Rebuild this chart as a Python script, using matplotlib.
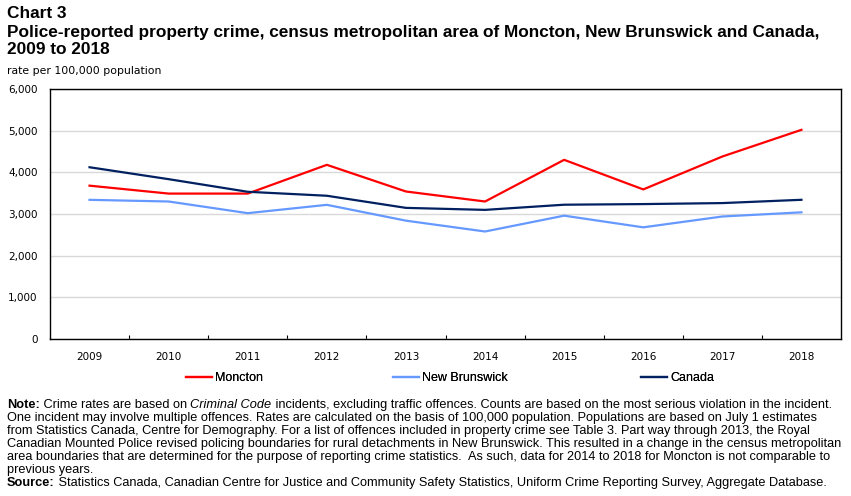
import matplotlib
matplotlib.use("Agg")
import matplotlib.pyplot as plt
import numpy as np

# data
years = ["2009", "2010", "2011", "2012", "2013", "2014", "2015", "2016", "2017", "2018"]
moncton = [3680, 3490, 3490, 4180, 3540, 3300, 4300, 3590, 4380, 5020]
new_brunswick = [3340, 3300, 3020, 3220, 2840, 2580, 2960, 2680, 2940, 3040]
canada = [4122, 3836, 3533, 3438, 3147, 3099, 3223, 3238, 3262, 3341]
yticks = [0, 1000, 2000, 3000, 4000, 5000, 6000]

TXT = "Liberation Sans"
NUM = "DejaVu Sans"

fig = plt.figure(figsize=(8.51, 4.96), dpi=100)
W, H = 851, 496

def fx(px):
    return px / W

def fy(py):
    return 1 - py / H

# axes: 50..841 x, 89..339 y (pixels)
ax = fig.add_axes([fx(50), fy(339), fx(841) - fx(50), fy(89) - fy(339)])
x = np.arange(len(years))
ax.plot(x, moncton, color="#ff0000", lw=1.6, label="Moncton")
ax.plot(x, new_brunswick, color="#6699ff", lw=1.6, label="New Brunswick")
ax.plot(x, canada, color="#002060", lw=1.6, label="Canada")

ax.set_xlim(-0.5, len(years) - 0.5)
ax.set_ylim(0, 6000)
ax.set_yticks(yticks)
ax.set_yticklabels([f"{v:,}" for v in yticks], fontfamily=NUM, fontsize=7.5)
ax.set_xticks(x)
ax.set_xticklabels(years, fontfamily=NUM, fontsize=7.5)
ax.set_xticks(np.arange(0.5, len(years) - 1, 1), minor=True)
ax.tick_params(axis="x", which="major", length=0, pad=9)
ax.tick_params(axis="x", which="minor", direction="in", length=3, width=0.8)
ax.tick_params(axis="y", length=0, pad=9)
ax.grid(axis="y", color="#d9d9d9", lw=1)
ax.set_axisbelow(True)
for s in ax.spines.values():
    s.set_linewidth(1)
    s.set_color("black")

# legend, one per entry to match the wide spacing
handles, labels = ax.get_legend_handles_labels()
leg_x = [186, 393, 641]
for h, lab, lx in zip(handles, labels, leg_x):
    leg = fig.legend([h], [lab], loc="center left",
                     bbox_to_anchor=(fx(lx), fy(378)), frameon=False,
                     handlelength=2.1, handletextpad=0.25, borderpad=0,
                     borderaxespad=0, prop={"family": TXT, "size": 9})
    fig.add_artist(leg)

# titles
fig.text(fx(7), fy(14), "Chart 3", fontfamily=TXT, fontweight="bold",
         fontsize=12.4, va="center")
fig.text(fx(7), fy(32), "Police-reported property crime, census metropolitan area of Moncton, New Brunswick and Canada,",
         fontfamily=TXT, fontweight="bold", fontsize=12.4, va="center")
fig.text(fx(7), fy(49), "2009 to 2018", fontfamily=TXT, fontweight="bold",
         fontsize=12.4, va="center")
fig.text(fx(7), fy(71), "rate per 100,000 population", fontfamily=NUM,
         fontsize=7.8, va="center")

# notes with mixed styles
renderer = fig.canvas.get_renderer()

def segs(y, parts, size=9.2):
    cur = 7
    for txt, style in parts:
        kw = dict(fontfamily=TXT, fontsize=size, va="center")
        if style == "b":
            kw["fontweight"] = "bold"
        if style == "i":
            kw["fontstyle"] = "italic"
        t = fig.text(fx(cur), fy(y), txt, **kw)
        bb = t.get_window_extent(renderer)
        cur += bb.width

note_lines = [
    [("Note:", "b"), (" Crime rates are based on ", ""), ("Criminal Code", "i"),
     (" incidents, excluding traffic offences. Counts are based on the most serious violation in the incident.", "")],
    [("One incident may involve multiple offences. Rates are calculated on the basis of 100,000 population. Populations are based on July 1 estimates", "")],
    [("from Statistics Canada, Centre for Demography. For a list of offences included in property crime see Table 3. Part way through 2013, the Royal", "")],
    [("Canadian Mounted Police revised policing boundaries for rural detachments in New Brunswick. This resulted in a change in the census metropolitan", "")],
    [("area boundaries that are determined for the purpose of reporting crime statistics.  As such, data for 2014 to 2018 for Moncton is not comparable to", "")],
    [("previous years.", "")],
    [("Source:", "b"), (" Statistics Canada, Canadian Centre for Justice and Community Safety Statistics, Uniform Crime Reporting Survey, Aggregate Database.", "")],
]
for i, parts in enumerate(note_lines):
    segs(405 + i * 13, parts)

fig.savefig("out.png", dpi=100)
